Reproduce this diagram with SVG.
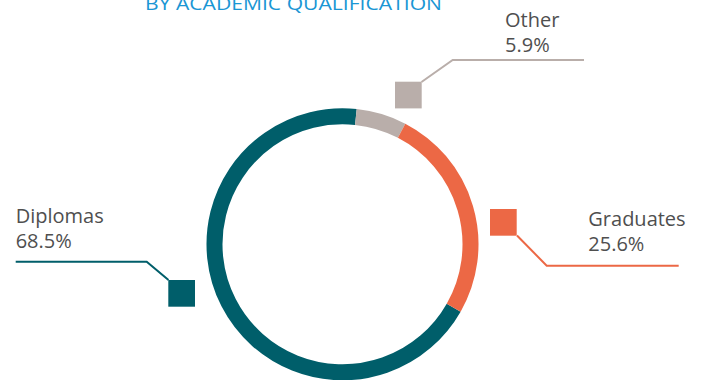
<svg xmlns="http://www.w3.org/2000/svg" width="705" height="380" viewBox="0 0 705 380">
<style>
.lbl{font-family:"Open Sans","Liberation Sans",sans-serif;font-size:20px;fill:#4f4f4f}
.title{font-family:"Open Sans","Liberation Sans",sans-serif;font-size:19px;fill:#1a96d4}
.seg{fill:none;stroke-width:16}
.lead{fill:none;stroke-width:2}
</style>
<rect width="705" height="380" fill="#ffffff"/>
<text class="title" x="145" y="10" textLength="297" lengthAdjust="spacingAndGlyphs">BY ACADEMIC QUALIFICATION</text>
<g id="donut">
<path class="seg" stroke="#005e6a" d="M 453.68 307.72 A 128 128 0 1 1 355.88 117.0"/>
<path class="seg" stroke="#b9aeaa" d="M 355.88 117.0 A 128 128 0 0 1 401.60 130.76"/>
<path class="seg" stroke="#ec6845" d="M 401.60 130.76 A 128 128 0 0 1 453.68 307.72"/>
</g>
<g id="connectors">
<polyline class="lead" stroke="#b9aeaa" points="421.5,82 452.7,60 584,60"/>
<polyline class="lead" stroke="#005e6a" points="15.7,261.7 146.7,261.7 168.5,280"/>
<polyline class="lead" stroke="#ec6845" points="517,235.5 546.7,265.7 678.7,265.7"/>
</g>
<g id="other">
<rect x="395" y="81.7" width="26.7" height="26.7" fill="#b9aeaa"/>
<text class="lbl" x="505" y="27.3">Other</text>
<text class="lbl" x="505" y="52.3">5.9%</text>
</g>
<g id="diplomas">
<rect x="168.3" y="280" width="26.7" height="26.7" fill="#005e6a"/>
<text class="lbl" x="15.7" y="223.3">Diplomas</text>
<text class="lbl" x="15.7" y="248.3">68.5%</text>
</g>
<g id="graduates">
<rect x="490" y="209" width="26.7" height="26.7" fill="#ec6845"/>
<text class="lbl" x="588.3" y="225.7">Graduates</text>
<text class="lbl" x="588.3" y="250.7">25.6%</text>
</g>
</svg>
